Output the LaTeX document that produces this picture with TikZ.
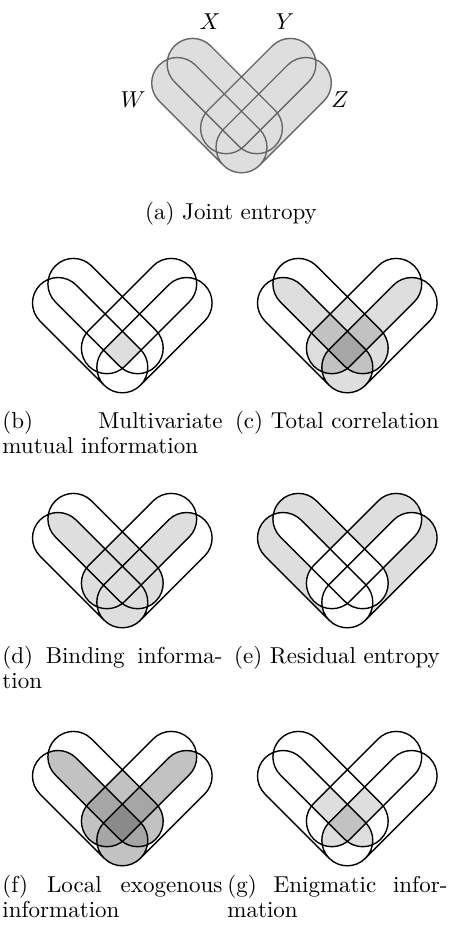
\documentclass[tikz,border=0pt]{standalone}
% grey levels for one, two, three and four layers of shading
\colorlet{shadeA}{black!13}
\colorlet{shadeB}{black!24}
\colorlet{shadeC}{black!35}
\colorlet{shadeD}{black!46}
% four stadiums of radius 25.5 at 45 degrees, all drawn clockwise
% W and X run down to the right, Z and Y run down to the left
\def\pW{(-46.27,82.33) -- (18.03,18.03) arc[start angle=45,end angle=-135,radius=25.5] -- (-82.33,46.27) arc[start angle=225,end angle=45,radius=25.5] -- cycle}
\def\pX{(-30.87,101.43) -- (33.43,37.13) arc[start angle=45,end angle=-135,radius=25.5] -- (-66.93,65.37) arc[start angle=225,end angle=45,radius=25.5] -- cycle}
\def\pZ{(82.33,46.27) -- (18.03,-18.03) arc[start angle=-45,end angle=-225,radius=25.5] -- (46.27,82.33) arc[start angle=135,end angle=-45,radius=25.5] -- cycle}
\def\pY{(66.93,65.37) -- (2.63,1.07) arc[start angle=-45,end angle=-225,radius=25.5] -- (30.87,101.43) arc[start angle=135,end angle=-45,radius=25.5] -- cycle}
% regions covered by at least one, two, three and four of the sets
\newcommand\regA[1]{\fill[#1]\pW \pX \pY \pZ;}
\newcommand\regB[1]{%
  \begin{scope}\clip\pW;\fill[#1]\pX \pY \pZ;\end{scope}%
  \begin{scope}\clip\pX;\fill[#1]\pY \pZ;\end{scope}%
  \begin{scope}\clip\pY;\fill[#1]\pZ;\end{scope}}
\newcommand\regC[1]{%
  \begin{scope}\clip\pW;\clip\pX;\fill[#1]\pY \pZ;\end{scope}%
  \begin{scope}\clip\pW;\clip\pY;\fill[#1]\pZ;\end{scope}%
  \begin{scope}\clip\pX;\clip\pY;\fill[#1]\pZ;\end{scope}}
\newcommand\regD[1]{\begin{scope}\clip\pW;\clip\pX;\clip\pY;\fill[#1]\pZ;\end{scope}}
\newcommand\outlines[1][black]{\draw[line width=0.6pt,#1]\pW \pX \pY \pZ;}
\tikzset{
  captext/.style={inner sep=0pt},
  setlabel/.style={inner sep=0pt}
}
\begin{document}
\begin{tikzpicture}[x=0.4348pt,y=0.4348pt]
\useasboundingbox (0,0) rectangle (455,-931);

% (a) joint entropy
\begin{scope}[shift={(241.5,-147.3)}]
  \regA{shadeA}
  \outlines[black!60]
\end{scope}
\node[setlabel] (lX) at (210,-22) {$X$};
\node[setlabel] (lY) at (285,-22) {$Y$};
\node[setlabel] (lW) at (133,-100) {$W$};
\node[setlabel] (lZ) at (340,-100) {$Z$};
\node[captext,anchor=base] (capA) at (231,-219) {(a) Joint entropy};

% (b) multivariate mutual information
\begin{scope}[shift={(122.3,-367.3)}]
  \regD{shadeA}
  \outlines
\end{scope}
\node[captext,anchor=base west] (capB1) at (2,-428) {\makebox[95.65pt][s]{(b) Multivariate}};
\node[captext,anchor=base west] (capB2) at (2,-453.5) {mutual information};

% (c) total correlation
\begin{scope}[shift={(347.3,-367.3)}]
  \regB{shadeA}
  \regC{shadeB}
  \regD{shadeC}
  \outlines
\end{scope}
\node[captext,anchor=base] (capC) at (337,-428) {(c) Total correlation};

% (d) binding information
\begin{scope}[shift={(122.3,-602.3)}]
  \regB{shadeA}
  \outlines
\end{scope}
\node[captext,anchor=base west] (capD1) at (2,-663) {\makebox[95.65pt][s]{(d) Binding informa-}};
\node[captext,anchor=base west] (capD2) at (2,-688.5) {tion};

% (e) residual entropy
\begin{scope}[shift={(347.3,-602.3)}]
  \regA{shadeA}
  \regB{white}
  \outlines
\end{scope}
\node[captext,anchor=base] (capE) at (337,-663) {(e) Residual entropy};

% (f) local exogenous information
\begin{scope}[shift={(122.3,-840.3)}]
  \regB{shadeB}
  \regC{shadeC}
  \regD{shadeD}
  \outlines
\end{scope}
\node[captext,anchor=base west] (capF1) at (2,-892) {\makebox[95.65pt][s]{(f) Local exogenous}};
\node[captext,anchor=base west] (capF2) at (2,-917.5) {information};

% (g) enigmatic information
\begin{scope}[shift={(347.3,-840.3)}]
  \regC{shadeA}
  \regD{shadeB}
  \outlines
\end{scope}
\node[captext,anchor=base west] (capG1) at (227,-892) {\makebox[95.65pt][s]{(g) Enigmatic infor-}};
\node[captext,anchor=base west] (capG2) at (227,-917.5) {mation};
\end{tikzpicture}
\end{document}
